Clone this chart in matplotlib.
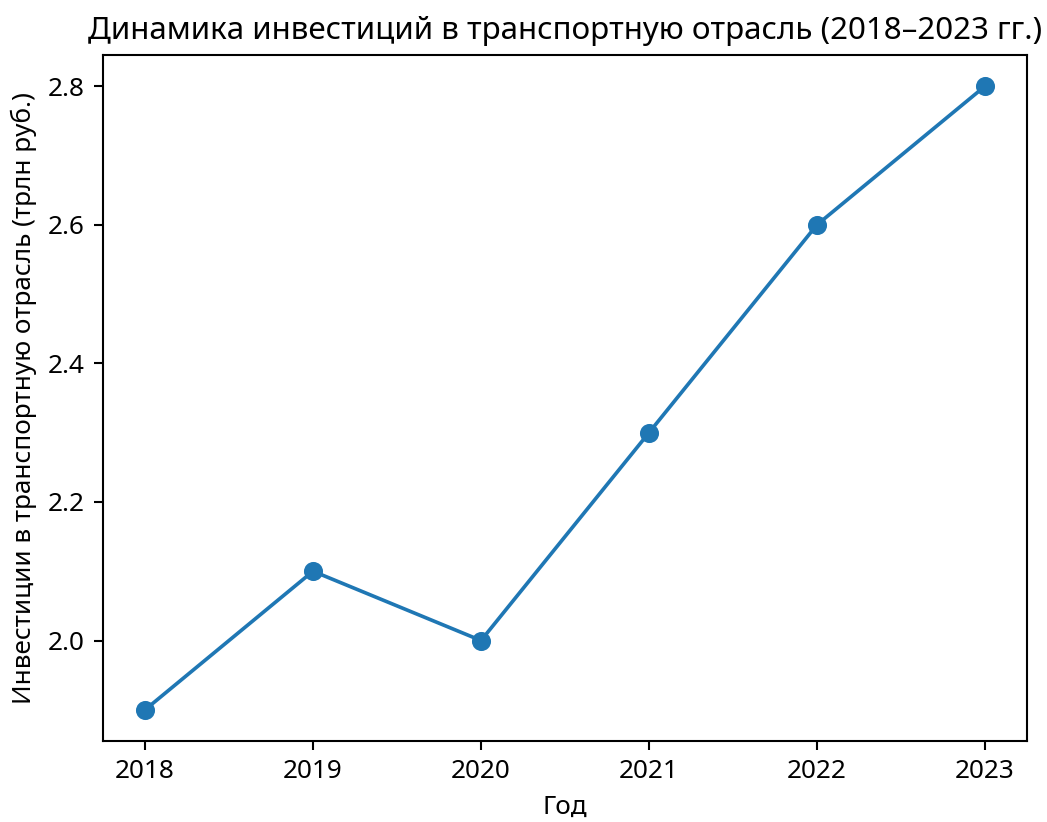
import matplotlib
matplotlib.use("Agg")
import matplotlib.pyplot as plt

plt.rcParams["font.family"] = ["Noto Sans", "DejaVu Sans"]

years = [2018, 2019, 2020, 2021, 2022, 2023]
investments = [1.9, 2.1, 2.0, 2.3, 2.6, 2.8]

dpi = 188
fig, ax = plt.subplots(figsize=(1047 / dpi, 822 / dpi), dpi=dpi)
ax.plot(years, investments, marker="o", color="#1f77b4", linewidth=1.4, markersize=6.3)
ax.set_xticks(years)
ax.set_title("Динамика инвестиций в транспортную отрасль (2018–2023 гг.)")
ax.set_xlabel("Год")
ax.set_ylabel("Инвестиции в транспортную отрасль (трлн руб.)")
fig.subplots_adjust(left=103 / 1047, right=1027 / 1047, top=1 - 55 / 822, bottom=1 - 741 / 822)
fig.savefig("out.png", dpi=dpi)
